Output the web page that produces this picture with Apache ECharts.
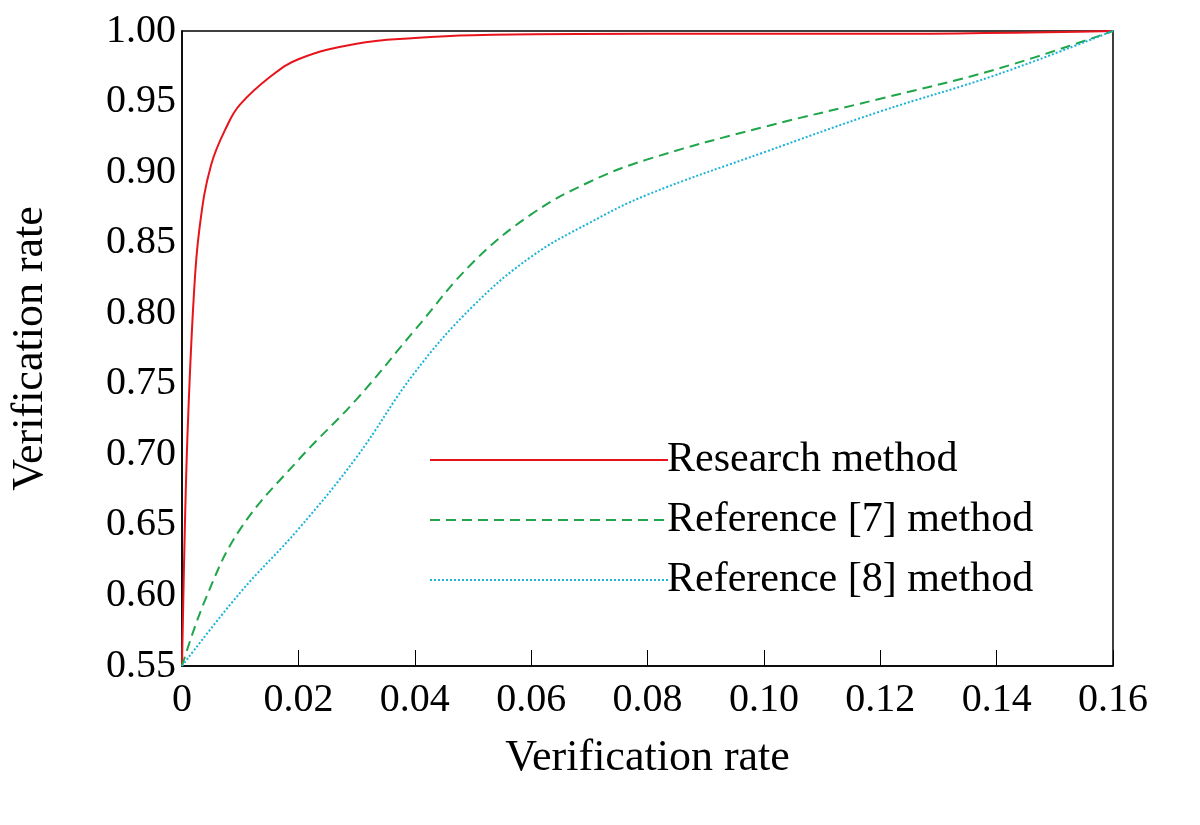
<!DOCTYPE html>
<html>
<head>
<meta charset="utf-8">
<script src="https://cdn.jsdelivr.net/npm/echarts@6/dist/echarts.min.js"></script>
<style>html,body{margin:0;padding:0;background:#fff}#chart{width:1200px;height:825px}</style>
</head>
<body>
<div id="chart"></div>
<script>
const researchData = [[0,0.55],[0.0005,0.65],[0.001,0.72],[0.002,0.81],[0.003,0.86],[0.005,0.905],[0.008,0.935],[0.01,0.948],[0.015,0.967],[0.02,0.98],[0.03,0.991],[0.04,0.995],[0.05,0.997],[0.08,0.998],[0.12,0.998],[0.16,1.0]];
const ref7Data = [[0,0.55],[0.004,0.597],[0.01,0.647],[0.02,0.696],[0.03,0.739],[0.04,0.788],[0.05,0.836],[0.06,0.870],[0.07,0.893],[0.08,0.909],[0.1,0.932],[0.12,0.952],[0.14,0.973],[0.16,1.0]];
const ref8Data = [[0,0.55],[0.01,0.602],[0.02,0.647],[0.03,0.698],[0.04,0.758],[0.05,0.805],[0.06,0.840],[0.07,0.864],[0.08,0.884],[0.1,0.914],[0.12,0.943],[0.14,0.969],[0.16,1.0]];

const font = 'Liberation Serif';
const chart = echarts.init(document.getElementById('chart'));
chart.setOption({
  animation: false,
  textStyle: { fontFamily: font },
  grid: { left: 170, right: 87, top: 31, bottom: 159, show: true, borderColor: '#000', borderWidth: 1.5 },
  legend: {
    orient: 'vertical', left: 424, top: 434, itemWidth: 238, itemHeight: 14, itemGap: 18,
    itemStyle: { opacity: 0 },
    textStyle: { fontFamily: font, fontSize: 42, color: '#000', padding: [0, 0, 0, -6] },
    data: ['Research method', 'Reference [7] method', 'Reference [8] method']
  },
  xAxis: {
    type: 'value', min: 0, max: 0.16, interval: 0.02,
    name: 'Verification rate', nameLocation: 'middle', nameGap: 70,
    nameTextStyle: { fontFamily: font, fontSize: 44, color: '#000' },
    axisLine: { lineStyle: { color: '#000', width: 1.5 } },
    axisTick: { inside: true, length: 16, lineStyle: { color: '#000' } },
    axisLabel: { fontFamily: font, fontSize: 40, color: '#000', margin: 14,
      formatter: v => v === 0 ? '0' : v.toFixed(2) },
    splitLine: { show: false }
  },
  yAxis: {
    type: 'value', min: 0.55, max: 1.0, interval: 0.05,
    name: 'Verification rate', nameLocation: 'middle', nameGap: 130,
    nameTextStyle: { fontFamily: font, fontSize: 44, color: '#000' },
    axisLine: { lineStyle: { color: '#000', width: 1.5 } },
    axisTick: { show: false },
    axisLabel: { fontFamily: font, fontSize: 40, color: '#000', margin: 6, formatter: v => v.toFixed(2) },
    splitLine: { show: false }
  },
  series: [
    { name: 'Research method', type: 'line', data: researchData, smooth: 0.4, symbol: 'none',
      lineStyle: { color: '#e8141c', width: 2 }, itemStyle: { color: '#e8141c' } },
    { name: 'Reference [7] method', type: 'line', data: ref7Data, smooth: 0.4, symbol: 'none',
      lineStyle: { color: '#1fa54a', width: 2, type: [10, 6] }, itemStyle: { color: '#1fa54a' } },
    { name: 'Reference [8] method', type: 'line', data: ref8Data, smooth: 0.4, symbol: 'none',
      lineStyle: { color: '#1cb3d8', width: 2, type: [2, 2] }, itemStyle: { color: '#1cb3d8' } }
  ]
});
</script>
</body>
</html>
